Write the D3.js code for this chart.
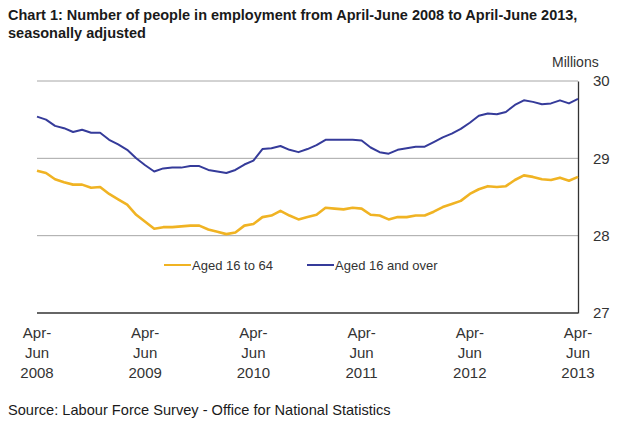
<!DOCTYPE html>
<html>
<head>
<meta charset="utf-8">
<script src="https://cdn.jsdelivr.net/npm/d3@7"></script>
<style>
  body { margin: 0; background: #ffffff; }
  text { font-family: "Liberation Sans", Arial, sans-serif; }
</style>
</head>
<body>
<script>
var SVG_WIDTH = 620;
var SVG_HEIGHT = 421;

// x tick labels, one per year (Apr-Jun quarter)
var tick_years = ["2008", "2009", "2010", "2011", "2012", "2013"];
var y_ticks = [27, 28, 29, 30];

// rolling three month periods, Apr-Jun 2008 .. Apr-Jun 2013 (millions)
var aged_16_64 = [
  28.84, 28.81, 28.73, 28.69, 28.66, 28.66, 28.62, 28.63, 28.54, 28.47,
  28.40, 28.27, 28.18, 28.09, 28.11, 28.11, 28.12, 28.13, 28.13, 28.08,
  28.05, 28.02, 28.04, 28.13, 28.15, 28.24, 28.26, 28.32, 28.26, 28.21,
  28.24, 28.27, 28.36, 28.35, 28.34, 28.36, 28.35, 28.27, 28.26, 28.21,
  28.24, 28.24, 28.26, 28.26, 28.31, 28.37, 28.41, 28.45, 28.54, 28.60,
  28.64, 28.63, 28.64, 28.72, 28.78, 28.76, 28.73, 28.72, 28.75, 28.71,
  28.76
];
var aged_16_over = [
  29.54, 29.50, 29.42, 29.39, 29.34, 29.37, 29.33, 29.33, 29.24, 29.18,
  29.11, 29.00, 28.91, 28.83, 28.87, 28.88, 28.88, 28.90, 28.90, 28.85,
  28.83, 28.81, 28.85, 28.92, 28.97, 29.12, 29.13, 29.16, 29.11, 29.08,
  29.12, 29.17, 29.24, 29.24, 29.24, 29.24, 29.23, 29.14, 29.08, 29.06,
  29.11, 29.13, 29.15, 29.15, 29.21, 29.27, 29.32, 29.38, 29.46, 29.55,
  29.58, 29.57, 29.60, 29.69, 29.75, 29.73, 29.70, 29.71, 29.75, 29.71,
  29.77
];

var series_names = ["Aged 16 to 64", "Aged 16 and over"];
var series_colors = ["#f0b323", "#353b9a"];

var plot_left = 37, plot_right = 578, plot_top = 81, plot_bottom = 313;

var svg = d3.select("body").append("svg")
  .attr("width", SVG_WIDTH)
  .attr("height", SVG_HEIGHT);

// Title
var title = svg.append("text")
  .attr("x", 8).attr("y", 20)
  .style("font-size", "14.5px").style("font-weight", "bold").style("fill", "#1a1a1a");
title.append("tspan").attr("x", 8).attr("y", 20)
  .text("Chart 1: Number of people in employment from April-June 2008 to April-June 2013,");
title.append("tspan").attr("x", 8).attr("y", 38)
  .text("seasonally adjusted");

// Scales
var x = d3.scaleLinear().domain([0, aged_16_64.length - 1]).range([plot_left, plot_right]);
var y = d3.scaleLinear().domain([27, 30]).range([plot_bottom, plot_top]);

// Gridlines
svg.append("g").selectAll("line")
  .data(y_ticks.filter(function(d) { return d > 27; }))
  .enter().append("line")
  .attr("x1", plot_left).attr("x2", plot_right)
  .attr("y1", function(d) { return y(d); })
  .attr("y2", function(d) { return y(d); })
  .style("stroke", "#a6a6a6").style("stroke-width", 1);

// Right y axis
var yAxis = d3.axisRight(y).tickValues(y_ticks).tickFormat(d3.format("d"))
  .tickSize(0).tickPadding(15);
var yg = svg.append("g").attr("transform", "translate(" + plot_right + ",0)").call(yAxis);
yg.select(".domain").style("stroke", "#333333").style("stroke-width", 1.3);
yg.selectAll("text").style("font-size", "15px").style("fill", "#333333")
  .style("font-family", "Liberation Sans, Arial, sans-serif");

// Bottom axis
svg.append("line")
  .attr("x1", plot_left).attr("x2", plot_right)
  .attr("y1", plot_bottom).attr("y2", plot_bottom)
  .style("stroke", "#333333").style("stroke-width", 1.3);

// X tick labels, every 12 periods
var xlabels = svg.append("g").selectAll("text")
  .data(tick_years).enter().append("text")
  .attr("text-anchor", "middle")
  .style("font-size", "15px").style("fill", "#333333");
xlabels.each(function(d, i) {
  var t = d3.select(this);
  var cx = x(i * 12);
  ["Apr-", "Jun", d].forEach(function(s, j) {
    t.append("tspan").attr("x", cx).attr("y", 338 + j * 20).text(s);
  });
});

// "Millions" label
svg.append("text")
  .attr("x", 552).attr("y", 67)
  .style("font-size", "14px").style("fill", "#333333")
  .text("Millions");

// Lines
var line = d3.line()
  .x(function(d, i) { return x(i); })
  .y(function(d) { return y(d); });

[aged_16_64, aged_16_over].forEach(function(series, k) {
  svg.append("path")
    .datum(series)
    .attr("d", line)
    .style("fill", "none")
    .style("stroke", series_colors[k])
    .style("stroke-width", k == 0 ? 2.6 : 2)
    .style("stroke-linejoin", "round");
});

// Legend
var legend_x = [164, 307];
series_names.forEach(function(name, k) {
  svg.append("line")
    .attr("x1", legend_x[k]).attr("x2", legend_x[k] + 27)
    .attr("y1", 265).attr("y2", 265)
    .style("stroke", series_colors[k]).style("stroke-width", 2);
  svg.append("text")
    .attr("x", legend_x[k] + 28).attr("y", 270)
    .style("font-size", "13px").style("fill", "#333333")
    .text(name);
});

// Source
svg.append("text")
  .attr("x", 8).attr("y", 415)
  .style("font-size", "14.6px").style("fill", "#1a1a1a")
  .text("Source: Labour Force Survey - Office for National Statistics");
</script>
</body>
</html>
